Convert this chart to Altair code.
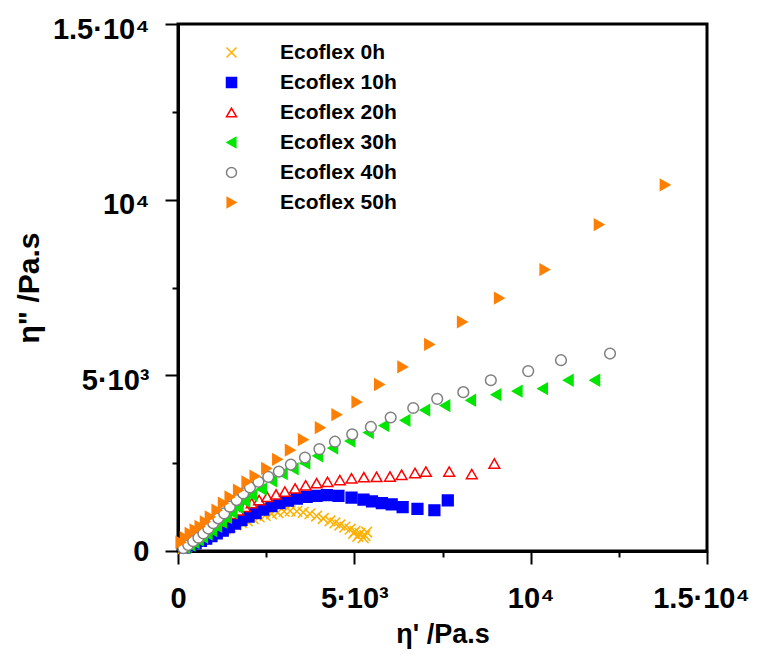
import altair as alt
import pandas as pd

series_names = ["Ecoflex 0h", "Ecoflex 10h", "Ecoflex 20h", "Ecoflex 30h", "Ecoflex 40h", "Ecoflex 50h"]
shapes = ["M-1,-1L1,1M-1,1L1,-1", "square", "triangle-up", "triangle-left", "circle", "triangle-right"]
strokes = ["#FFB000", "#0000FF", "#FF0000", "#00E600", "#808080", "#FF7F00"]
fills = ["#FFB000", "#0000FF", "#FFFFFF", "#00E600", "#FFFFFF", "#FF7F00"]

x_0h = [150, 250, 350, 450, 560, 680, 800, 930, 1060, 1200, 1340, 1490, 1640, 1800, 1960, 2130,
        2300, 2470, 2650, 2830, 3010, 3180, 3370, 3550, 3740, 3930, 4120, 4310, 4450, 4590, 4730,
        4880, 5020, 5160, 5300, 5350, 4980, 5100, 5250]
y_0h = [70, 120, 170, 220, 275, 330, 390, 450, 505, 565, 625, 685, 745, 805, 860, 920,
        970, 1015, 1060, 1095, 1125, 1140, 1130, 1100, 1055, 995, 925, 855, 800, 740, 680,
        620, 560, 500, 440, 540, 500, 420, 380]

x_10h = [200, 350, 500, 650, 800, 950, 1100, 1270, 1440, 1620, 1800, 2000, 2200, 2420, 2650, 2880,
         3120, 3370, 3650, 3930, 4220, 4550, 4920, 5260, 5500, 5780, 6060, 6370, 6790, 7270, 7650]
y_10h = [100, 160, 220, 290, 350, 420, 500, 580, 680, 780, 880, 980, 1080, 1180, 1280, 1360,
         1430, 1490, 1540, 1570, 1590, 1570, 1520, 1460, 1410, 1360, 1330, 1250, 1200, 1160, 1440]

x_20h = [250, 390, 530, 670, 810, 960, 1140, 1330, 1520, 1710, 1900, 2090, 2300, 2530, 2780, 3030,
         3320, 3620, 3930, 4240, 4590, 4920, 5270, 5630, 6010, 6340, 6720, 7030, 7690, 8330, 8970]
y_20h = [220, 310, 410, 510, 610, 720, 840, 950, 1060, 1160, 1260, 1360, 1450, 1540, 1610, 1690,
         1780, 1870, 1930, 1970, 2020, 2070, 2100, 2110, 2120, 2170, 2220, 2260, 2260, 2190, 2490]

x_30h = [200, 340, 460, 580, 700, 830, 960, 1100, 1240, 1380, 1540, 1710, 1900, 2100, 2370, 2660,
         2960, 3270, 3600, 3960, 4390, 4880, 5400, 5840, 6440, 7000, 7570, 8300, 9020, 9620, 10340,
         11070, 11820]
y_30h = [100, 170, 240, 310, 390, 480, 580, 700, 820, 950, 1090, 1240, 1410, 1580, 1760, 2000,
         2200, 2340, 2500, 2710, 2930, 3130, 3370, 3570, 3720, 4010, 4140, 4290, 4450, 4550, 4620,
         4860, 4860]

x_40h = [150, 290, 430, 580, 720, 860, 1000, 1140, 1310, 1470, 1660, 1850, 2040, 2280, 2560, 2860,
         3200, 3600, 4010, 4450, 4940, 5470, 6030, 6670, 7350, 8090, 8870, 9930, 10860, 12250]
y_40h = [80, 170, 280, 380, 500, 640, 790, 930, 1070, 1260, 1450, 1640, 1810, 1970, 2110, 2260,
         2460, 2660, 2900, 3110, 3320, 3530, 3800, 4070, 4330, 4520, 4860, 5120, 5430, 5620]

x_50h = [80, 200, 340, 480, 620, 770, 910, 1100, 1280, 1470, 1710, 1950, 2180, 2510, 2820, 3180,
         3550, 4030, 4500, 5070, 5710, 6370, 7130, 8060, 9110, 10400, 11940, 13810]
y_50h = [250, 380, 500, 600, 700, 830, 970, 1160, 1360, 1540, 1730, 1970, 2130, 2350, 2610, 2870,
         3170, 3510, 3880, 4240, 4740, 5240, 5880, 6520, 7200, 8010, 9290, 10420]

tick_values = [0, 2500, 5000, 7500, 10000, 12500, 15000]

xs = [x_0h, x_10h, x_20h, x_30h, x_40h, x_50h]
ys = [y_0h, y_10h, y_20h, y_30h, y_40h, y_50h]
rows = []
for name, xx, yy in zip(series_names, xs, ys):
    for a, b in zip(xx, yy):
        rows.append({"series": name, "x": a, "y": b})
df = pd.DataFrame(rows)

label_expr = ("datum.value === 0 ? '0' : datum.value === 5000 ? '5·10³' : "
              "datum.value === 10000 ? '10⁴' : datum.value === 15000 ? '1.5·10⁴' : ''")
tick_size = {"condition": {"test": "datum.value % 5000 === 0", "value": 13}, "value": 6}
FONT = "Liberation Sans"


def make_axis(title, label_pad, title_pad, title_size, label_offset):
    return alt.Axis(values=tick_values, labelExpr=label_expr, tickSize=tick_size, tickWidth=2,
                    tickColor="black", domainColor="black", domainWidth=3, grid=False,
                    labelFont=FONT, labelFontSize=29, labelFontWeight="bold", labelColor="black",
                    labelPadding=label_pad, labelOverlap=False, labelFlush=False,
                    labelOffset=label_offset,
                    title=title, titleFont=FONT, titleFontSize=title_size, titleFontWeight="bold",
                    titleColor="black", titlePadding=title_pad)


legend = alt.Legend(title=None, orient="none", legendX=43, legendY=18, padding=0,
                    labelFont=FONT, labelFontSize=21, labelFontWeight="bold", labelColor="black",
                    labelLimit=300, symbolSize=100, symbolStrokeWidth=1.5, rowPadding=8,
                    labelOffset=38)

y_label_offset = {"condition": {"test": "datum.value === 0", "value": 0}, "value": 5}
x_label_offset = {"condition": {"test": "datum.value === 15000", "value": -6}, "value": 0}

chart = alt.Chart(df).mark_point(opacity=1, strokeWidth=1.5, size=115).encode(
    x=alt.X("x:Q", scale=alt.Scale(domain=[0, 15000], nice=False, zero=False),
            axis=make_axis("η' /Pa.s", 20, 8, 27, x_label_offset)),
    y=alt.Y("y:Q", scale=alt.Scale(domain=[0, 15000], nice=False, zero=False),
            axis=make_axis('η" /Pa.s', 16, 8, 30, y_label_offset)),
    shape=alt.Shape("series:N", scale=alt.Scale(domain=series_names, range=shapes), legend=legend),
    fill=alt.Fill("series:N", scale=alt.Scale(domain=series_names, range=fills), legend=legend),
    stroke=alt.Stroke("series:N", scale=alt.Scale(domain=series_names, range=strokes), legend=legend),
).properties(
    width=529, height=527,
    autosize=alt.AutoSizeParams(type="none"),
    padding={"left": 170, "top": 16, "right": 46, "bottom": 98},
).configure(background="white").configure_view(stroke="black", strokeWidth=3)

chart.save("out.html", embed_options={"renderer": "svg", "actions": False})
